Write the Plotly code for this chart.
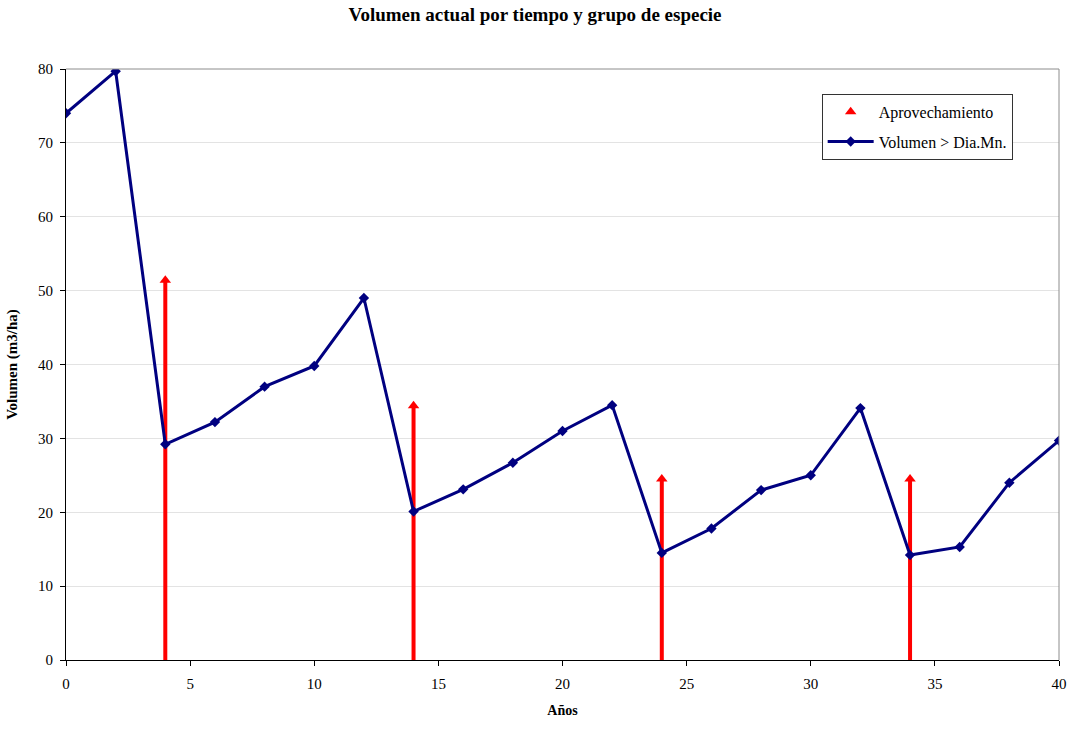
import plotly.graph_objects as go

# Años de simulación y volumen remanente (m3/ha)
anios = [0, 2, 4, 6, 8, 10, 12, 14, 16, 18, 20, 22, 24, 26, 28, 30, 32, 34, 36, 38, 40]
volumen = [74.0, 79.7, 29.2, 32.2, 37.0, 39.8, 49.0, 20.1, 23.1, 26.7, 31.0, 34.5,
           14.5, 17.8, 23.0, 25.0, 34.1, 14.2, 15.3, 24.0, 29.7]

# Años de corta y volumen aprovechado
anios_corta = [4, 14, 24, 34]
aprovechamiento = [51.4, 34.4, 24.5, 24.5]

serif = "Liberation Serif, Times New Roman, serif"

fig = go.Figure()

fig.add_trace(go.Scatter(
    x=anios_corta, y=aprovechamiento, mode="markers", name="Aprovechamiento",
    legendgroup="a",
    marker=dict(symbol="triangle-up", size=10, color="#ff0000"),
    error_y=dict(type="data", symmetric=False, array=[0] * len(aprovechamiento),
                 arrayminus=aprovechamiento, color="#ff0000", thickness=4, width=0),
))

fig.add_trace(go.Scatter(
    x=anios, y=volumen, mode="lines+markers", name="Volumen > Dia.Mn.",
    legendgroup="b",
    line=dict(color="#000080", width=3),
    marker=dict(symbol="diamond", size=8, color="#000080"),
))

fig.update_layout(
    width=1070, height=729,
    margin=dict(l=66, r=11, t=69, b=69, autoexpand=False),
    paper_bgcolor="white", plot_bgcolor="white",
    font=dict(family=serif, size=15, color="black"),
    title=dict(text="<b>Volumen actual por tiempo y grupo de especie</b>",
               x=0.5, xanchor="center", y=0.98, yanchor="middle",
               font=dict(family=serif, size=19)),
    legend=dict(x=0.761, y=0.958, xanchor="left", yanchor="top",
                bordercolor="#333333", borderwidth=1, bgcolor="white",
                font=dict(family=serif, size=16), tracegroupgap=6,
                traceorder="grouped", itemwidth=46),
    showlegend=True,
)

fig.update_xaxes(
    range=[0, 40], tickmode="linear", tick0=0, dtick=5,
    ticks="outside", ticklen=5, tickcolor="black", ticklabelstandoff=5,
    showline=True, linecolor="black", linewidth=1, mirror=False,
    showgrid=False, zeroline=False, automargin=False,
    title=dict(text="<b>Años</b>", font=dict(family=serif, size=14), standoff=14),
    tickfont=dict(family=serif, size=15),
)
fig.update_yaxes(
    range=[0, 80], tickmode="linear", tick0=0, dtick=10,
    ticks="outside", ticklen=5, tickcolor="black", ticklabelstandoff=4,
    showline=True, linecolor="black", linewidth=1,
    showgrid=True, gridcolor="#e3e3e3", gridwidth=1, zeroline=False, automargin=False,
    title=dict(text="<b>Volumen (m3/ha)</b>", font=dict(family=serif, size=15), standoff=16),
    tickfont=dict(family=serif, size=15),
)

# Marco gris superior y derecho del área de trazado
fig.add_shape(type="line", xref="paper", yref="paper", x0=0, x1=1, y0=1, y1=1,
              line=dict(color="#8c8c8c", width=1))
fig.add_shape(type="line", xref="paper", yref="paper", x0=1, x1=1, y0=0, y1=1,
              line=dict(color="#8c8c8c", width=1))

fig.write_html("out.html")
